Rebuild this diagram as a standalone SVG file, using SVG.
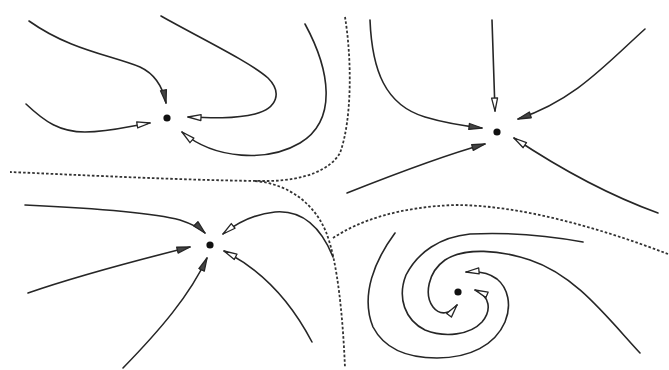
<svg xmlns="http://www.w3.org/2000/svg" width="669" height="370" viewBox="0 0 669 370">
<style>
.t{fill:none;stroke:#262626;stroke-width:1.6;stroke-linecap:round;stroke-linejoin:round}
.o{marker-end:url(#open)}
.s{marker-end:url(#solid)}
.sep{fill:none;stroke:#333;stroke-width:1.8;stroke-dasharray:2.6 2;stroke-linecap:butt}
.dot{fill:#111}
</style>
<defs>
<marker id="open" markerUnits="userSpaceOnUse" markerWidth="16" markerHeight="10" refX="13" refY="3" orient="auto" viewBox="-1 -1 16 8">
<path d="M0,0 L13,3 L0,6 Z" fill="#fff" stroke="#262626" stroke-width="1.3" stroke-linejoin="round"/>
</marker>
<marker id="solid" markerUnits="userSpaceOnUse" markerWidth="16" markerHeight="10" refX="13" refY="3" orient="auto" viewBox="-1 -1 16 8">
<path d="M0,0 L13,3 L0,6 Z" fill="#444" stroke="#262626" stroke-width="1.3" stroke-linejoin="round"/>
</marker>
</defs>
<rect width="669" height="370" fill="#fff"/>
<g id="separatrices">
<path class="sep" d="M345,17 C352,60 352,120 340,153 C330,170 305,180 270,181 C200,181 80,175 10,172"/>
<path class="sep" d="M255,181 C290,184 315,205 326,232 C338,262 343,320 345,368"/>
<path class="sep" d="M333,238 C360,220 400,207 455,205 C520,205 600,228 668,254"/>
</g>
<g id="attractor-upper-left">
<circle class="dot" cx="167" cy="118" r="3.6"/>
<g id="connectors-upper-left">
<path class="t s" d="M29,21 C70,50 110,55 140,67 C155,74 163,88 166,103"/>
<path class="t o" d="M26,104 C45,122 60,132 85,132 C110,132 130,126 150,123"/>
<path class="t o" d="M161,16 C200,38 250,62 268,78 C282,92 278,108 255,114 C235,119 210,118 188,117"/>
<path class="t o" d="M305,24 C330,70 338,120 300,143 C268,162 215,160 182,132"/>
</g>
</g>
<g id="attractor-upper-right">
<circle class="dot" cx="497" cy="132" r="3.6"/>
<g id="connectors-upper-right">
<path class="t s" d="M370,20 C372,70 385,105 425,117 C445,123 465,126 482,128"/>
<path class="t o" d="M492,20 C493,50 494,80 495,111"/>
<path class="t s" d="M645,29 C605,65 575,100 518,119"/>
<path class="t s" d="M347,193 C400,172 445,155 485,144"/>
<path class="t o" d="M658,213 C600,192 550,162 514,138"/>
</g>
</g>
<g id="attractor-lower-left">
<circle class="dot" cx="210" cy="245" r="3.6"/>
<g id="connectors-lower-left">
<path class="t s" d="M25,205 C90,208 150,212 180,220 C192,224 200,228 205,233"/>
<path class="t s" d="M28,293 C80,275 130,262 190,247"/>
<path class="t s" d="M123,368 C160,330 190,295 207,258"/>
<path class="t o" d="M312,342 C290,300 262,270 224,251"/>
<path class="t o" d="M333,257 C320,225 300,210 275,212 C255,214 238,222 223,234"/>
</g>
</g>
<g id="attractor-spiral">
<circle class="dot" cx="458" cy="292" r="3.6"/>
<g id="connectors-spiral">
<path class="t o" d="M395,233 C375,260 360,295 373,327 C385,350 410,358 437,358 C470,358 495,345 505,322 C512,305 508,288 497,279 C488,272 478,271 466,272"/>
<path class="t o" d="M583,242 C550,236 510,232 470,234 C440,237 418,252 406,275 C397,298 405,320 425,330 C445,338 470,335 482,322 C492,310 490,296 475,290"/>
<path class="t o" d="M640,353 C605,315 575,275 530,260 C500,250 465,247 445,260 C428,272 424,295 433,307 C440,316 450,314 457,305"/>
</g>
</g>
</svg>
